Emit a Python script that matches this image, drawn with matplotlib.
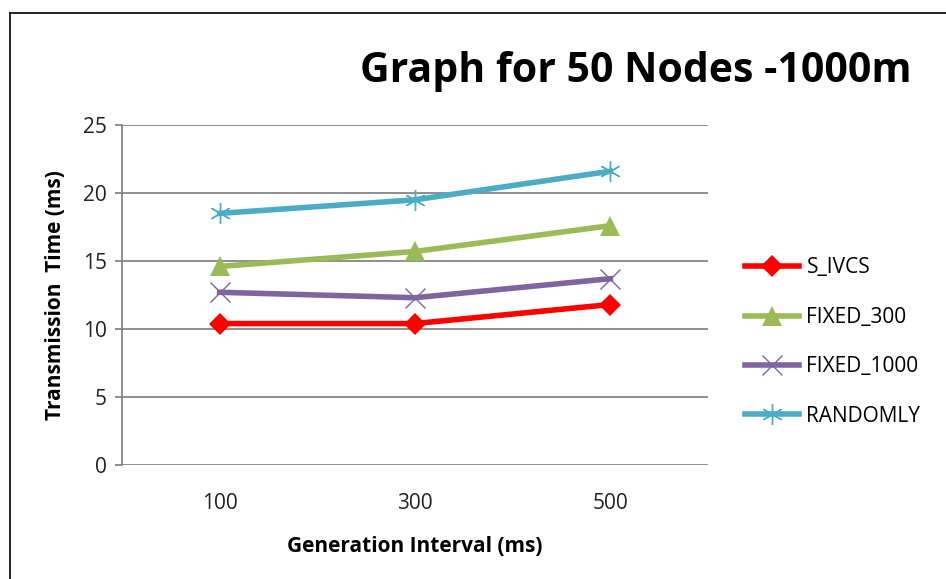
import matplotlib
matplotlib.use("Agg")
import matplotlib.pyplot as plt
from matplotlib.lines import Line2D

plt.rcParams['font.family'] = ['Open Sans', 'DejaVu Sans']

categories = ["100", "300", "500"]
s_ivcs = [10.4, 10.4, 11.8]
fixed_300 = [14.6, 15.7, 17.6]
fixed_1000 = [12.7, 12.3, 13.7]
randomly = [18.5, 19.5, 21.6]
series_names = ["S_IVCS", "FIXED_300", "FIXED_1000", "RANDOMLY"]
yticks = [0, 5, 10, 15, 20, 25]

W, H = 946, 579
fig = plt.figure(figsize=(W / 100, H / 100), dpi=100)
ax = fig.add_axes([122 / W, 1 - 465 / H, 586 / W, 340 / H])

x = list(range(len(categories)))
styles = [
    dict(color="#FF0000", marker="D", markersize=11, markeredgewidth=0),
    dict(color="#9BBB59", marker="^", markersize=15, markeredgewidth=0),
    dict(color="#8064A2", marker="x", markersize=14, markeredgewidth=1.0),
    dict(color="#4BACC6", marker=(6, 2, 0), markersize=15, markeredgewidth=1.0),
]
for vals, name, st in zip([s_ivcs, fixed_300, fixed_1000, randomly], series_names, styles):
    ax.plot(x, vals, linewidth=4.0, label=name, zorder=3, **st)

ax.set_xlim(-0.5, 2.5)
ax.set_ylim(0, 25)
ax.set_yticks(yticks)
ax.set_yticklabels([str(v) for v in yticks])
ax.set_xticks(x)
ax.set_xticklabels(categories)
ax.yaxis.grid(True, color="#868686", linewidth=1.3)
ax.set_axisbelow(True)
for s in ["top", "right", "bottom"]:
    ax.spines[s].set_visible(False)
ax.spines["left"].set_color("#868686")
ax.spines["left"].set_linewidth(1.3)
ax.tick_params(axis="y", length=5, width=1.3, color="#868686", labelsize=15,
               labelcolor="#222222", pad=6)
ax.tick_params(axis="x", length=0, labelsize=15, labelcolor="#222222", pad=20)

ax.set_xlabel("Generation Interval (ms)", fontsize=15, fontweight="bold", labelpad=16)
ax.set_ylabel("Transmission  Time (ms)", fontsize=15, fontweight="bold", labelpad=12)

fig.text(636 / W, 1 - 72 / H, "Graph for 50 Nodes -1000m", fontsize=29.5,
         fontweight="bold", ha="center", va="center")

leg = ax.legend(loc="center left", bbox_to_anchor=(745 / W, 1 - 342 / H),
                bbox_transform=fig.transFigure, frameon=False, fontsize=15,
                handlelength=2.6, handletextpad=0.35, labelspacing=1.36,
                borderpad=0, borderaxespad=0)

# frame lines (top and left)
fig.add_artist(Line2D([10 / W, 1.0], [1 - 13 / H, 1 - 13 / H], transform=fig.transFigure,
                      color="black", linewidth=1.2))
fig.add_artist(Line2D([10 / W, 10 / W], [0, 1 - 13 / H], transform=fig.transFigure,
                      color="black", linewidth=1.2))

fig.savefig("out.png", dpi=100)
